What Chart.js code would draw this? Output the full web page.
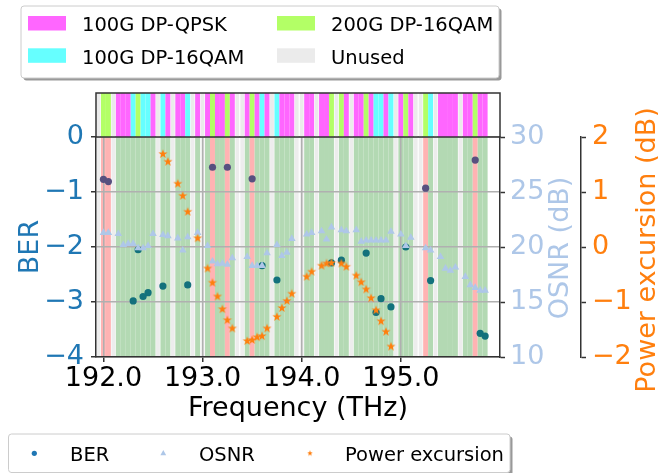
<!DOCTYPE html>
<html>
<head>
<meta charset="utf-8">
<script src="https://cdn.jsdelivr.net/npm/chart.js@4.4.0/dist/chart.umd.min.js"></script>
<style>
  html, body { margin: 0; padding: 0; background: #fff; }
  canvas { display: block; }
</style>
</head>
<body>
<canvas id="myChart" width="658" height="473"></canvas>
<script>
// 50 GHz grid, first slot centred on 191.95 THz
const gridStart = 191.95;
const gridSpacing = 0.05;

// format per slot: M = 100G DP-QPSK, C = 100G DP-16QAM, G = 200G DP-16QAM, U = unused
const channelFormat = [
  'U','G','G','U','M','M','M','C','G','C','C','M','U','C','M','U','M','M','C','U',
  'M','U','M','G','M','M','G','M','U','U','M','G','M','C','M','U','C','M','M','M',
  'U','U','M','M','U','M','M','G','U','G','M','U','M','M','G','M','C','C','M','C',
  'U','M','G','M','U','U','G','C','U','M','M','M','M','U','M','M','G','M','M'
];

// channels whose BER is above threshold
const failedChannels = [192.00, 192.05, 193.10, 193.25, 193.50, 195.25, 195.75];

const berFreq = [192.00, 192.05, 192.30, 192.35, 192.40, 192.45, 192.60, 192.85, 193.10, 193.25,
                 193.50, 193.60, 193.75, 194.30, 194.40, 194.65, 194.75, 194.80, 194.90, 195.05,
                 195.25, 195.30, 195.75, 195.80, 195.85];
const berValues = [-0.77, -0.81, -2.98, -2.05, -2.90, -2.83, -2.71, -2.69, -0.55, -0.55,
                   -0.76, -2.34, -2.60, -2.29, -2.24, -2.11, -3.19, -2.94, -3.09, -2.00,
                   -0.93, -2.61, -0.42, -3.57, -3.62];

const osnrFreq = [192.00, 192.05, 192.15, 192.20, 192.25, 192.30, 192.35, 192.40, 192.45, 192.50,
                  192.60, 192.65, 192.75, 192.80, 192.85, 192.95, 193.05, 193.10, 193.15, 193.20,
                  193.25, 193.30, 193.45, 193.50, 193.55, 193.60, 193.65, 193.75, 193.80, 193.85,
                  193.90, 194.05, 194.10, 194.20, 194.25, 194.30, 194.40, 194.45, 194.55, 194.60,
                  194.65, 194.70, 194.75, 194.80, 194.85, 194.90, 195.00, 195.05, 195.10, 195.25,
                  195.30, 195.40, 195.45, 195.50, 195.55, 195.65, 195.70, 195.75, 195.80, 195.85];
const osnrValues = [21.3, 21.3, 21.2, 20.2, 20.3, 20.3, 19.9, 19.9, 20.1, 21.2,
                    21.1, 21.0, 20.8, 19.7, 20.9, 21.3, 20.1, 18.7, 18.45, 18.5,
                    18.4, 19.0, 19.1, 18.3, 18.3, 18.3, 19.45, 20.2, 19.2, 19.5,
                    20.75, 21.15, 21.3, 21.45, 20.7, 21.8, 21.55, 21.45, 21.55, 20.5,
                    20.6, 20.6, 20.6, 20.6, 20.6, 21.4, 21.15, 20.1, 20.85, 19.9,
                    19.7, 19.1, 18.05, 17.85, 18.15, 17.3, 16.55, 16.3, 16.05, 16.05];

const pexFreq = [192.60, 192.65, 192.75, 192.80, 192.85, 192.95, 193.05, 193.10, 193.15, 193.20,
                 193.25, 193.30, 193.45, 193.50, 193.55, 193.60, 193.65, 193.75, 193.80, 193.85,
                 193.90, 194.05, 194.10, 194.20, 194.25, 194.30, 194.40, 194.45, 194.55, 194.60,
                 194.65, 194.70, 194.75, 194.80, 194.85, 194.90];
const pexValues = [1.69, 1.55, 1.15, 0.93, 0.64, 0.16, -0.39, -0.65, -0.90, -1.13,
                   -1.33, -1.48, -1.71, -1.69, -1.64, -1.62, -1.48, -1.27, -1.11, -0.98,
                   -0.85, -0.54, -0.45, -0.34, -0.30, -0.29, -0.30, -0.36, -0.52, -0.64,
                   -0.77, -0.93, -1.15, -1.35, -1.54, -1.81];

const freqTicks = [192.0, 193.0, 194.0, 195.0];
const berTicks = [-4, -3, -2, -1, 0];
const osnrTicks = [10, 15, 20, 25, 30];
const pexTicks = [-2, -1, 0, 1, 2];

const formatColors = { M: '#ff66ff', C: '#66ffff', G: '#b3ff66', U: '#ebebeb' };
const formatNames = { M: '100G DP-QPSK', C: '100G DP-16QAM', G: '200G DP-16QAM', U: 'Unused' };

const FONT = '"DejaVu Sans", sans-serif';
Chart.defaults.font.family = FONT;

const isFailed = f => failedChannels.some(v => Math.abs(v - f) < 1e-6);
const minus = v => String(v).replace('-', '\u2212');

// filled five-point star used as marker
function starImage(r, color) {
  const size = Math.ceil(r * 2 + 2);
  const c = document.createElement('canvas');
  c.width = size; c.height = size;
  const g = c.getContext('2d');
  g.fillStyle = color;
  g.beginPath();
  for (let i = 0; i < 10; i++) {
    const rad = i % 2 === 0 ? r : r * 0.4;
    const a = -Math.PI / 2 + i * Math.PI / 5;
    const px = size / 2 + rad * Math.cos(a), py = size / 2 + rad * Math.sin(a);
    i === 0 ? g.moveTo(px, py) : g.lineTo(px, py);
  }
  g.closePath();
  g.fill();
  return c;
}

function roundRect(c, x, y, w, h, r) {
  c.beginPath();
  c.moveTo(x + r, y);
  c.lineTo(x + w - r, y); c.quadraticCurveTo(x + w, y, x + w, y + r);
  c.lineTo(x + w, y + h - r); c.quadraticCurveTo(x + w, y + h, x + w - r, y + h);
  c.lineTo(x + r, y + h); c.quadraticCurveTo(x, y + h, x, y + h - r);
  c.lineTo(x, y + r); c.quadraticCurveTo(x, y, x + r, y);
  c.closePath();
}

function legendBox(c, x, y, w, h) {
  c.save();
  c.fillStyle = 'rgba(0,0,0,0.4)';
  roundRect(c, x + 2.5, y + 2.5, w, h, 3); c.fill();
  c.fillStyle = '#fff';
  roundRect(c, x, y, w, h, 3); c.fill();
  c.strokeStyle = '#cccccc'; c.lineWidth = 1; c.stroke();
  c.restore();
}

function slotEdges(xs, i) {
  const mid = gridStart + i * gridSpacing;
  return [xs.getPixelForValue(mid - gridSpacing / 2), xs.getPixelForValue(mid + gridSpacing / 2)];
}

const channelPlugin = {
  id: 'channels',
  // background bands for every slot, under grid and points
  beforeDraw(chart) {
    const { ctx, chartArea: a, scales: { x } } = chart;
    ctx.save();
    channelFormat.forEach((f, i) => {
      const [x0, x1] = slotEdges(x, i);
      const mid = gridStart + i * gridSpacing;
      if (f === 'U') {
        ctx.fillStyle = '#ededed';
        ctx.fillRect(x0 + 0.6, a.top, x1 - x0 - 1.2, a.bottom - a.top);
      } else {
        ctx.fillStyle = isFailed(mid) ? '#ffb3b3' : '#b3d9b3';
        ctx.fillRect(x0, a.top, x1 - x0, a.bottom - a.top);
      }
    });
    ctx.restore();
  },
  afterDraw(chart) {
    const { ctx, chartArea: a, scales: { x, y2, y3 } } = chart;
    ctx.save();

    // modulation strip above the plot
    const sTop = a.top - 44;
    channelFormat.forEach((f, i) => {
      const [x0, x1] = slotEdges(x, i);
      ctx.fillStyle = formatColors[f];
      if (f === 'U') ctx.fillRect(x0 + 0.6, sTop, x1 - x0 - 1.2, a.top - sTop);
      else ctx.fillRect(x0, sTop, x1 - x0, a.top - sTop);
    });
    ctx.strokeStyle = '#333';
    ctx.lineWidth = 1.5;
    ctx.strokeRect(a.left, sTop, a.right - a.left, a.top - sTop);

    // right-hand axis titles, reading bottom to top
    ctx.font = '27px ' + FONT;
    ctx.textAlign = 'center';
    ctx.textBaseline = 'alphabetic';
    ctx.fillStyle = '#aec7e8';
    ctx.translate(y2.left + 68, (a.top + a.bottom) / 2 + 1);
    ctx.rotate(-Math.PI / 2);
    ctx.fillText('OSNR (dB)', 0, 0);
    ctx.setTransform(1, 0, 0, 1, 0, 0);
    ctx.fillStyle = '#ff7f0e';
    ctx.translate(y3.left + 74, (a.top + a.bottom) / 2 + 3);
    ctx.rotate(-Math.PI / 2);
    ctx.fillText('Power excursion (dB)', 0, 0);
    ctx.setTransform(1, 0, 0, 1, 0, 0);

    // channel format legend
    legendBox(ctx, 21, 6, 478, 72);
    ctx.font = '19.5px ' + FONT;
    ctx.textAlign = 'left';
    const items = ['M', 'G', 'C', 'U'];
    items.forEach((k, i) => {
      const col = i % 2, row = Math.floor(i / 2);
      const sx = 28 + col * 249, sy = 16 + row * 32.3;
      ctx.fillStyle = formatColors[k];
      ctx.fillRect(sx, sy, 38, 14.5);
      ctx.fillStyle = '#000';
      ctx.fillText(formatNames[k], sx + 54, sy + 15.3);
    });

    // series legend
    legendBox(ctx, 8.5, 434, 501.5, 38.5);
    const my = 453.3;
    ctx.fillStyle = '#1f77b4';
    ctx.beginPath(); ctx.arc(34.3, my, 2.6, 0, Math.PI * 2); ctx.fill();
    ctx.fillStyle = '#aec7e8';
    ctx.beginPath();
    ctx.moveTo(163.3, my - 3.2); ctx.lineTo(166.2, my + 2); ctx.lineTo(160.4, my + 2);
    ctx.closePath(); ctx.fill();
    ctx.drawImage(starImage(3, '#ff7f0e'), 310 - 4, my - 4);
    ctx.fillStyle = '#000';
    ctx.fillText('BER', 70, 460.7);
    ctx.fillText('OSNR', 199, 460.7);
    ctx.fillText('Power excursion', 345, 460.7);

    ctx.restore();
  }
};

const berColors = berFreq.map(f => isFailed(f) ? '#58507f' : '#13717c');
const toPoints = (xs, ys) => xs.map((v, i) => ({ x: v, y: ys[i] }));
const setTicks = list => scale => { scale.ticks = list.map(v => ({ value: v })); };

const ctx = document.getElementById('myChart').getContext('2d');
const myChart = new Chart(ctx, {
  type: 'scatter',
  data: {
    datasets: [
      {
        label: 'Power excursion',
        data: toPoints(pexFreq, pexValues),
        yAxisID: 'y3',
        pointStyle: starImage(4.8, '#ff7f0e'),
        pointRadius: 4.8
      },
      {
        label: 'OSNR',
        data: toPoints(osnrFreq, osnrValues),
        yAxisID: 'y2',
        pointStyle: 'triangle',
        pointRadius: 4.4,
        backgroundColor: '#aec7e8',
        borderWidth: 0
      },
      {
        label: 'BER',
        data: toPoints(berFreq, berValues),
        yAxisID: 'y',
        pointStyle: 'circle',
        pointRadius: 3.6,
        backgroundColor: berColors,
        borderWidth: 0
      }
    ]
  },
  options: {
    responsive: false,
    animation: false,
    layout: { padding: { top: 137, left: 0, right: 0, bottom: 0 } },
    plugins: { legend: { display: false }, tooltip: { enabled: false } },
    scales: {
      x: {
        type: 'linear',
        min: 191.925,
        max: 196.0,
        afterBuildTicks: setTicks(freqTicks),
        afterFit: s => { s.height = 116; },
        ticks: { color: '#000', font: { size: 27 }, padding: 1, maxRotation: 0, autoSkip: false,
                 callback: v => v.toFixed(1) },
        grid: { color: '#b0b0b0', lineWidth: 1.5, tickColor: '#333', tickLength: 5, tickWidth: 1.5 },
        border: { color: '#333', width: 1.5 },
        title: { display: true, text: 'Frequency (THz)', color: '#000', font: { size: 27 },
                 padding: { top: 0, bottom: 48 } }
      },
      y: {
        position: 'left',
        min: -4,
        max: 0,
        afterBuildTicks: setTicks(berTicks),
        afterFit: s => { s.width = 96; },
        ticks: { color: '#1f77b4', font: { size: 27 }, padding: 7, callback: minus },
        grid: { color: '#b0b0b0', lineWidth: 1.5, tickColor: '#333', tickLength: 5, tickWidth: 1.5 },
        border: { color: '#333', width: 1.5 },
        title: { display: true, text: 'BER', color: '#1f77b4', font: { size: 27 },
                 padding: { top: 15, bottom: 0 } }
      },
      y2: {
        position: 'right',
        min: 10,
        max: 30,
        afterBuildTicks: setTicks(osnrTicks),
        afterFit: s => { s.width = 81; },
        ticks: { color: '#aec7e8', font: { size: 27 }, padding: 5 },
        grid: { drawOnChartArea: false, tickColor: '#333', tickLength: 5, tickWidth: 1.5 },
        border: { color: '#333', width: 1.5 }
      },
      y3: {
        position: 'right',
        min: -2,
        max: 2,
        afterBuildTicks: setTicks(pexTicks),
        afterFit: s => { s.width = 77; },
        ticks: { color: '#ff7f0e', font: { size: 27 }, padding: 6, callback: minus },
        grid: { drawOnChartArea: false, tickColor: '#333', tickLength: 5, tickWidth: 1.5 },
        border: { color: '#333', width: 1.5 }
      }
    }
  },
  plugins: [channelPlugin]
});
</script>
</body>
</html>
